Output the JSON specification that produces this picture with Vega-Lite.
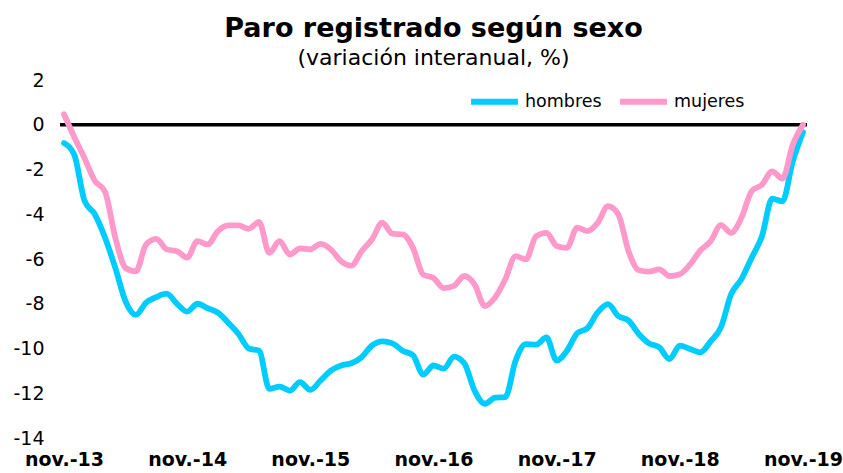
{
  "$schema": "https://vega.github.io/schema/vega-lite/v6.json",
  "width": 747,
  "height": 358,
  "autosize": {"type": "none"},
  "padding": {"left": 60, "top": 80, "right": 36, "bottom": 35},
  "background": "white",
  "config": {"view": {"stroke": null}, "font": "DejaVu Sans"},
  "title": {
    "text": "Paro registrado según sexo",
    "subtitle": "(variación interanual, %)",
    "anchor": "middle",
    "font": "DejaVu Sans",
    "fontSize": 27,
    "fontWeight": "bold",
    "color": "black",
    "subtitleFont": "DejaVu Sans",
    "subtitleFontSize": 22,
    "subtitleColor": "black",
    "subtitlePadding": 5,
    "offset": 1
  },
  "layer": [
    {
      "data": {"values": [{}]},
      "mark": {"type": "rule", "color": "black", "strokeWidth": 3.5},
      "encoding": {"y": {"datum": 0, "type": "quantitative", "scale": {"domain": [-14, 2]}}}
    },
    {
      "data": {
        "values": [
          {"d": "2013-11", "hombres": -0.82, "mujeres": 0.47},
          {"d": "2013-12", "hombres": -1.34, "mujeres": -0.55},
          {"d": "2014-01", "hombres": -3.4, "mujeres": -1.5},
          {"d": "2014-02", "hombres": -4.0, "mujeres": -2.5},
          {"d": "2014-03", "hombres": -5.05, "mujeres": -3.0},
          {"d": "2014-04", "hombres": -6.4, "mujeres": -5.05},
          {"d": "2014-05", "hombres": -7.9, "mujeres": -6.4},
          {"d": "2014-06", "hombres": -8.5, "mujeres": -6.55},
          {"d": "2014-07", "hombres": -7.95, "mujeres": -5.35},
          {"d": "2014-08", "hombres": -7.7, "mujeres": -5.1},
          {"d": "2014-09", "hombres": -7.55, "mujeres": -5.57},
          {"d": "2014-10", "hombres": -8.0, "mujeres": -5.65},
          {"d": "2014-11", "hombres": -8.35, "mujeres": -5.94},
          {"d": "2014-12", "hombres": -8.0, "mujeres": -5.2},
          {"d": "2015-01", "hombres": -8.2, "mujeres": -5.35},
          {"d": "2015-02", "hombres": -8.4, "mujeres": -4.75},
          {"d": "2015-03", "hombres": -8.85, "mujeres": -4.5},
          {"d": "2015-04", "hombres": -9.35, "mujeres": -4.5},
          {"d": "2015-05", "hombres": -10.0, "mujeres": -4.65},
          {"d": "2015-06", "hombres": -10.1, "mujeres": -4.34},
          {"d": "2015-07", "hombres": -11.8, "mujeres": -5.72},
          {"d": "2015-08", "hombres": -11.7, "mujeres": -5.2},
          {"d": "2015-09", "hombres": -11.88, "mujeres": -5.8},
          {"d": "2015-10", "hombres": -11.5, "mujeres": -5.53},
          {"d": "2015-11", "hombres": -11.85, "mujeres": -5.57},
          {"d": "2015-12", "hombres": -11.43, "mujeres": -5.32},
          {"d": "2016-01", "hombres": -10.99, "mujeres": -5.57},
          {"d": "2016-02", "hombres": -10.76, "mujeres": -6.1},
          {"d": "2016-03", "hombres": -10.66, "mujeres": -6.3},
          {"d": "2016-04", "hombres": -10.39, "mujeres": -5.65},
          {"d": "2016-05", "hombres": -9.87, "mujeres": -5.13},
          {"d": "2016-06", "hombres": -9.68, "mujeres": -4.38},
          {"d": "2016-07", "hombres": -9.77, "mujeres": -4.87},
          {"d": "2016-08", "hombres": -10.1, "mujeres": -4.9},
          {"d": "2016-09", "hombres": -10.3, "mujeres": -5.5},
          {"d": "2016-10", "hombres": -11.17, "mujeres": -6.7},
          {"d": "2016-11", "hombres": -10.76, "mujeres": -6.85},
          {"d": "2016-12", "hombres": -10.9, "mujeres": -7.3},
          {"d": "2017-01", "hombres": -10.36, "mujeres": -7.2},
          {"d": "2017-02", "hombres": -10.66, "mujeres": -6.76},
          {"d": "2017-03", "hombres": -11.88, "mujeres": -7.13},
          {"d": "2017-04", "hombres": -12.47, "mujeres": -8.1},
          {"d": "2017-05", "hombres": -12.2, "mujeres": -7.72},
          {"d": "2017-06", "hombres": -12.17, "mujeres": -6.9},
          {"d": "2017-07", "hombres": -10.54, "mujeres": -5.87},
          {"d": "2017-08", "hombres": -9.8, "mujeres": -6.02},
          {"d": "2017-09", "hombres": -9.83, "mujeres": -4.98},
          {"d": "2017-10", "hombres": -9.5, "mujeres": -4.83},
          {"d": "2017-11", "hombres": -10.54, "mujeres": -5.42},
          {"d": "2017-12", "hombres": -10.1, "mujeres": -5.5},
          {"d": "2018-01", "hombres": -9.32, "mujeres": -4.6},
          {"d": "2018-02", "hombres": -9.09, "mujeres": -4.75},
          {"d": "2018-03", "hombres": -8.39, "mujeres": -4.38},
          {"d": "2018-04", "hombres": -8.02, "mujeres": -3.64},
          {"d": "2018-05", "hombres": -8.55, "mujeres": -4.0},
          {"d": "2018-06", "hombres": -8.75, "mujeres": -5.65},
          {"d": "2018-07", "hombres": -9.35, "mujeres": -6.5},
          {"d": "2018-08", "hombres": -9.77, "mujeres": -6.56},
          {"d": "2018-09", "hombres": -9.95, "mujeres": -6.46},
          {"d": "2018-10", "hombres": -10.47, "mujeres": -6.76},
          {"d": "2018-11", "hombres": -9.87, "mujeres": -6.68},
          {"d": "2018-12", "hombres": -10.02, "mujeres": -6.24},
          {"d": "2019-01", "hombres": -10.17, "mujeres": -5.62},
          {"d": "2019-02", "hombres": -9.68, "mujeres": -5.2},
          {"d": "2019-03", "hombres": -9.06, "mujeres": -4.49},
          {"d": "2019-04", "hombres": -7.57, "mujeres": -4.83},
          {"d": "2019-05", "hombres": -6.9, "mujeres": -4.16},
          {"d": "2019-06", "hombres": -5.94, "mujeres": -2.97},
          {"d": "2019-07", "hombres": -4.98, "mujeres": -2.68},
          {"d": "2019-08", "hombres": -3.3, "mujeres": -2.08},
          {"d": "2019-09", "hombres": -3.42, "mujeres": -2.41},
          {"d": "2019-10", "hombres": -1.64, "mujeres": -0.9},
          {"d": "2019-11", "hombres": -0.33, "mujeres": 0.0}
        ]
      },
      "transform": [{"fold": ["hombres", "mujeres"], "as": ["sexo", "v"]}],
      "mark": {"type": "line", "strokeWidth": 5.8, "interpolate": "monotone", "strokeCap": "round", "strokeJoin": "round"},
      "encoding": {
        "x": {
          "field": "d",
          "type": "ordinal",
          "sort": null,
          "scale": {"type": "point", "padding": 0.39},
          "axis": {
            "title": null,
            "values": ["2013-11", "2014-11", "2015-11", "2016-11", "2017-11", "2018-11", "2019-11"],
            "labelExpr": "'nov.-' + slice(datum.value, 2, 4)",
            "labelAngle": 0,
            "labelFont": "DejaVu Sans",
            "labelFontSize": 19,
            "labelFontWeight": "bold",
            "labelColor": "black",
            "labelPadding": 12,
            "ticks": false,
            "domain": false,
            "grid": false,
            "labelOverlap": false,
            "labelBound": false
          }
        },
        "y": {
          "field": "v",
          "type": "quantitative",
          "scale": {"domain": [-14, 2]},
          "axis": {
            "title": null,
            "values": [-14, -12, -10, -8, -6, -4, -2, 0, 2],
            "labelExpr": "datum.value + ''",
            "labelFont": "DejaVu Sans",
            "labelFontSize": 19,
            "labelColor": "black",
            "labelPadding": 16,
            "ticks": false,
            "domain": false,
            "gridColor": "#d9d9d9",
            "gridWidth": 1.3
          }
        },
        "color": {
          "field": "sexo",
          "type": "nominal",
          "scale": {"domain": ["hombres", "mujeres"], "range": ["#00CCFF", "#FF99CC"]},
          "legend": {
            "orient": "none",
            "legendX": 408,
            "legendY": -5,
            "direction": "horizontal",
            "title": null,
            "symbolType": "stroke",
            "symbolSize": 2200,
            "symbolStrokeWidth": 6,
            "labelFont": "DejaVu Sans",
            "labelFontSize": 17.5,
            "labelColor": "black",
            "labelOffset": 4,
            "columnPadding": 6
          }
        }
      }
    }
  ]
}
